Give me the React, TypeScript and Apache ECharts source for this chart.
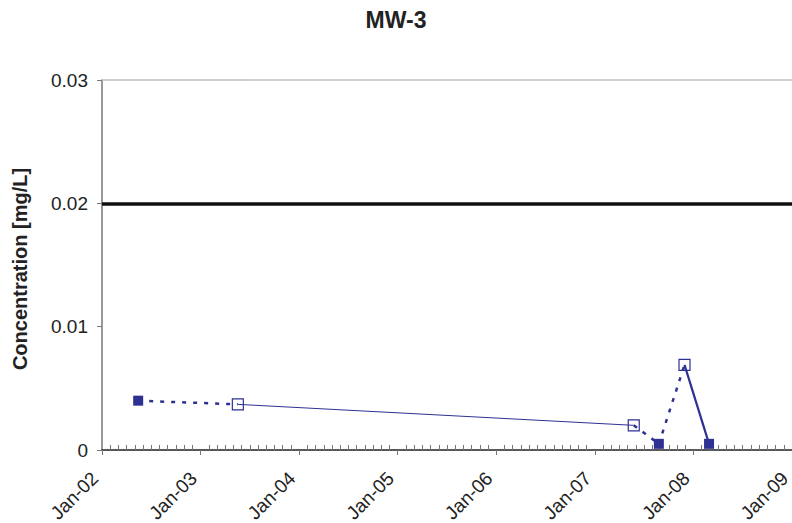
import React, { useEffect, useRef } from "react";
import * as echarts from "echarts";

// Sampling dates and concentrations (mg/L) for MW-3
const sampleDates = ["2002-05-15", "2003-05-19", "2007-05-25", "2007-08-26", "2007-11-29", "2008-02-28"];
const concentrations = [0.004, 0.0037, 0.002, 0.0005, 0.0069, 0.0005];
// filled marker = solid square, open marker = hollow square
const markerFilled = [true, false, false, true, false, true];
// style of connecting segment i -> i+1
const segmentStyles = ["dashed", "thin", "dashed", "dashed", "thick"];

const yearTicks = [2002, 2003, 2004, 2005, 2006, 2007, 2008, 2009];
const standardValue = 0.02;
const yMax = 0.03;
const yInterval = 0.01;

const BLUE = "#2E3192";
const FONT = "Liberation Sans, Arial, sans-serif";

function toYear(d: string): number {
  const dt = new Date(d + "T00:00:00Z");
  const y = dt.getUTCFullYear();
  const s = Date.UTC(y, 0, 1);
  const e = Date.UTC(y + 1, 0, 1);
  return y + (dt.getTime() - s) / (e - s);
}

export default function App() {
  const ref = useRef<HTMLDivElement>(null);
  useEffect(() => {
    if (!ref.current) return;
    const chart = echarts.init(ref.current, undefined, { renderer: "svg" });
    const pts = sampleDates.map((d, i) => [toYear(d), concentrations[i]]);

    const segSeries: any[] = segmentStyles.map((st, i) => ({
      type: "line",
      xAxisIndex: 0,
      yAxisIndex: 0,
      data: [pts[i], pts[i + 1]],
      symbol: "none",
      silent: true,
      z: 3,
      lineStyle: {
        color: BLUE,
        width: st === "thin" ? 1 : st === "thick" ? 2.2 : 2.5,
        type: st === "dashed" ? [4, 7] : "solid",
      },
    }));

    const filledPts = pts.filter((_, i) => markerFilled[i]);
    const openPts = pts.filter((_, i) => !markerFilled[i]);

    const xMin = yearTicks[0];
    const xMax = yearTicks[yearTicks.length - 1];

    const option: any = {
      animation: false,
      backgroundColor: "#ffffff",
      title: {
        text: "MW-3",
        left: "center",
        top: 8,
        padding: 0,
        textStyle: { fontFamily: FONT, fontSize: 23, fontWeight: "bold", color: "#222222" },
      },
      grid: { left: 102, right: 0, top: 80, bottom: 73, containLabel: false, outerBoundsMode: "none" },
      xAxis: [
        {
          type: "value",
          min: xMin,
          max: xMax,
          interval: 1,
          position: "bottom",
          axisLine: { show: true, lineStyle: { color: "#222222", width: 1.5 } },
          axisTick: { show: true, inside: false, length: 5, lineStyle: { color: "#777777", width: 1 } },
          splitLine: { show: false },
          axisLabel: {
            rotate: 45,
            margin: 18,
            padding: [0, 10, 0, 0],
            fontFamily: FONT,
            fontSize: 19,
            color: "#222222",
            formatter: (v: number) => "Jan-" + String(Math.round(v)).slice(2),
          },
        },
        {
          type: "value",
          min: xMin,
          max: xMax,
          interval: 1,
          position: "bottom",
          axisLine: { show: false },
          axisTick: { show: false, inside: true },
          minorTick: { show: true, splitNumber: 12, length: 5, lineStyle: { color: "#777777", width: 1 } },
          splitLine: { show: false },
          axisLabel: { show: false },
        },
        {
          type: "value",
          min: xMin,
          max: xMax,
          position: "top",
          axisLine: { show: true, lineStyle: { color: "#c0c0c0", width: 1.5 } },
          axisTick: { show: false },
          splitLine: { show: false },
          axisLabel: { show: false },
        },
      ],
      yAxis: {
        type: "value",
        min: 0,
        max: yMax,
        interval: yInterval,
        name: "Concentration [mg/L]",
        nameLocation: "middle",
        nameGap: 72,
        nameTextStyle: {
          fontFamily: FONT,
          fontSize: 20,
          fontWeight: "bold",
          color: "#222222",
          padding: [0, 8, 0, 0],
        },
        axisLine: { show: true, lineStyle: { color: "#777777", width: 1.5 } },
        axisTick: { show: true, inside: false, length: 5, lineStyle: { color: "#777777" } },
        splitLine: { show: false },
        axisLabel: { margin: 14, fontFamily: FONT, fontSize: 19, color: "#222222" },
      },
      series: [
        {
          type: "line",
          data: [],
          symbol: "none",
          markLine: {
            silent: true,
            symbol: "none",
            label: { show: false },
            lineStyle: { color: "#111111", width: 3.5, type: "solid" },
            data: [{ yAxis: standardValue }],
          },
        },
        ...segSeries,
        {
          type: "scatter",
          data: filledPts,
          symbol: "rect",
          symbolSize: 10,
          z: 5,
          itemStyle: { color: BLUE, opacity: 1 },
        },
        {
          type: "scatter",
          data: openPts,
          symbol: "rect",
          symbolSize: 11,
          z: 5,
          itemStyle: { color: "rgba(255,255,255,0)", borderColor: BLUE, borderWidth: 1.2, opacity: 1 },
        },
      ],
    };
    chart.setOption(option);
    return () => chart.dispose();
  }, []);
  return <div ref={ref} style={{ width: 792, height: 523, position: "absolute", left: 0, top: 0 }} />;
}
